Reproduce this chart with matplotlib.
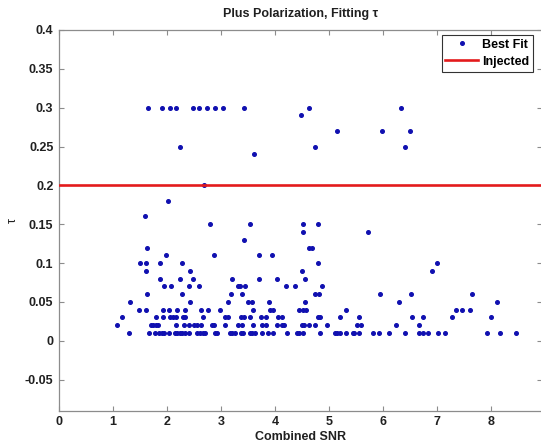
import matplotlib
matplotlib.use('Agg')
import matplotlib.pyplot as plt

plt.rcParams['font.family'] = ['Liberation Sans', 'DejaVu Sans']

# best-fit tau is quantised to 0.01, so the points are read off row by row:
# tau_levels[i] goes with every SNR value in snr_rows[i]
tau_levels = [0.30, 0.29, 0.27, 0.25, 0.24, 0.20, 0.18, 0.16, 0.15, 0.14,
              0.13, 0.12, 0.11, 0.10, 0.09, 0.08, 0.07, 0.06, 0.05, 0.04,
              0.03, 0.02, 0.01]
snr_rows = [
    [1.655, 1.91, 2.05, 2.16, 2.49, 2.59, 2.75, 2.89, 3.04, 3.43, 4.63, 6.34],
    [4.48],
    [5.15, 5.99, 6.50],
    [2.25, 4.74, 6.41],
    [3.61],
    [2.69],
    [2.02],
    [1.60],
    [2.79, 3.53, 4.53, 4.80],
    [4.53, 5.72],
    [3.42],
    [1.63, 4.63, 4.68],
    [1.99, 2.87, 3.71, 3.95],
    [1.51, 1.61, 1.87, 2.27, 4.80, 7.00],
    [1.62, 2.43, 4.50, 6.91],
    [1.88, 2.24, 2.48, 3.21, 3.71, 4.04, 4.55],
    [1.95, 2.08, 2.41, 2.59, 3.31, 3.36, 3.45, 4.21, 4.37, 4.87],
    [1.63, 2.27, 3.19, 3.40, 4.75, 4.82, 5.95, 6.53, 7.65],
    [1.32, 2.42, 3.14, 3.50, 3.58, 3.90, 4.56, 6.30, 8.11],
    [1.49, 1.62, 1.93, 2.03, 2.19, 2.33, 2.63, 2.77, 2.98,
     3.59, 3.91, 3.96, 4.45, 4.53, 4.57, 5.31, 7.35, 7.46, 7.61],
    [1.16, 1.80, 1.93, 2.06, 2.11, 2.16, 2.30, 2.34, 2.66, 3.08, 3.13,
     3.38, 3.42, 3.53, 3.74, 3.83, 4.06, 4.13, 4.80, 4.84, 5.21, 5.55,
     6.55, 6.74, 7.28, 8.00],
    [1.07, 1.70, 1.75, 1.80, 1.84, 2.16, 2.32, 2.40, 2.51, 2.56, 2.63, 2.83,
     2.88, 3.08, 3.31, 3.40, 3.59, 3.76, 3.84, 4.04, 4.13, 4.17, 4.50, 4.54,
     4.64, 4.74, 4.97, 5.53, 5.60, 6.25, 6.68],
    [1.30, 1.66, 1.77, 1.86, 1.91, 1.95, 2.04, 2.15, 2.19, 2.24, 2.28, 2.33,
     2.41, 2.56, 2.61, 2.66, 2.71, 2.89, 2.93, 3.16, 3.21, 3.27, 3.37, 3.41,
     3.54, 3.58, 3.64, 3.77, 3.87, 3.96, 4.23, 4.41, 4.45, 4.52, 4.84, 5.11,
     5.16, 5.21, 5.31, 5.44, 5.47, 5.55, 5.81, 5.93, 6.12, 6.42, 6.68, 6.75,
     6.83, 7.02, 7.16, 7.94, 8.17, 8.46],
]
tau_injected = 0.2

snr = []
tau_fit = []
for lvl, row in zip(tau_levels, snr_rows):
    snr += row
    tau_fit += [lvl] * len(row)

xticks = [0, 1, 2, 3, 4, 5, 6, 7, 8]
yticks = [-0.05, 0, 0.05, 0.1, 0.15, 0.2, 0.25, 0.3, 0.35, 0.4]
ytick_labels = ['-0.05', '0', '0.05', '0.1', '0.15', '0.2', '0.25', '0.3', '0.35', '0.4']

fig = plt.figure(figsize=(5.41, 4.46), dpi=100)
# the right edge of the plot box sits just past the edge of the picture
ax = fig.add_axes([59 / 541, 1 - 410.7 / 446, 483 / 541, 380.7 / 446])

ax.plot(snr, tau_fit, 'o', color='#1010b0', ms=2.6, mec='#1010b0',
        label='Best Fit', zorder=2)
ax.axhline(tau_injected, color='#e31a1c', lw=1.9, label='Injected', zorder=3)

ax.set_xlim(0, 8.95)
ax.set_ylim(-0.09, 0.4)
ax.set_xticks(xticks)
ax.set_xticklabels([str(t) for t in xticks])
ax.set_yticks(yticks)
ax.set_yticklabels(ytick_labels)

for s in ax.spines.values():
    s.set_color('#8c8c8c')
    s.set_linewidth(0.9)
ax.tick_params(direction='in', length=3.5, width=0.8, color='#8c8c8c',
               top=True, right=True, labelsize=9, pad=4)
for lab in ax.get_xticklabels() + ax.get_yticklabels():
    lab.set_fontweight('bold')
    lab.set_color('#202020')

ax.set_title('Plus Polarization, Fitting \u03c4', fontsize=9, fontweight='bold',
             pad=9, color='#202020')
ax.set_xlabel('Combined SNR', fontsize=9, fontweight='bold', labelpad=2,
              color='#202020')
ax.set_ylabel('\u03c4', fontsize=9, labelpad=4, color='#202020')

leg = ax.legend(loc='upper right', bbox_to_anchor=(533 / 541, 1 - 35 / 446),
                bbox_transform=fig.transFigure, borderaxespad=0, fancybox=False,
                handlelength=2.6, handletextpad=0.35, borderpad=0.3,
                labelspacing=0.4, markerscale=1.0,
                prop={'size': 9, 'weight': 'bold'})
leg.get_frame().set_edgecolor('black')
leg.get_frame().set_linewidth(0.8)

fig.savefig('out.png', dpi=100)
